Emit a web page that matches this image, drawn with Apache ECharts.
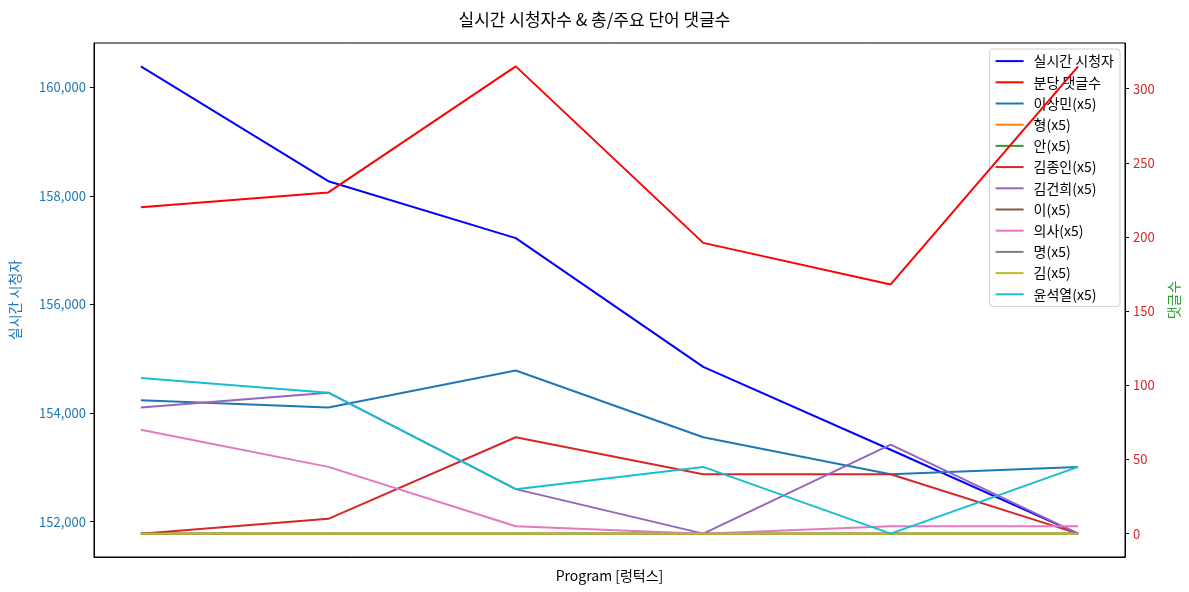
<!DOCTYPE html>
<html>
<head>
<meta charset="utf-8">
<script src="https://cdn.jsdelivr.net/npm/echarts@6/dist/echarts.min.js"></script>
<style>
html,body{margin:0;padding:0;background:#fff;}
#chart{width:1189px;height:592px;}
</style>
</head>
<body>
<div id="chart"></div>
<script>
// ---- data ----
const programPoints = [0, 1, 2, 3, 4, 5];
const viewers = [160386, 158271, 157223, 154851, 153324, 151779];
const comments = [220, 230, 315, 196, 168, 315];
const wordNames = ['이상민(x5)', '형(x5)', '안(x5)', '김종인(x5)', '김건희(x5)', '이(x5)', '의사(x5)', '명(x5)', '김(x5)', '윤석열(x5)'];
const w_이상민 = [90, 85, 110, 65, 40, 45];
const w_형 = [0, 0, 0, 0, 0, 0];
const w_안 = [0, 0, 0, 0, 0, 0];
const w_김종인 = [0, 10, 65, 40, 40, 0];
const w_김건희 = [85, 95, 30, 0, 60, 0];
const w_이 = [0, 0, 0, 0, 0, 0];
const w_의사 = [70, 45, 5, 0, 5, 5];
const w_명 = [0, 0, 0, 0, 0, 0];
const w_김 = [0, 0, 0, 0, 0, 0];
const w_윤석열 = [105, 95, 30, 45, 0, 45];
const wordValues = [w_이상민, w_형, w_안, w_김종인, w_김건희, w_이, w_의사, w_명, w_김, w_윤석열];
const leftTicks = [152000, 154000, 156000, 158000, 160000];
const rightTicks = [0, 50, 100, 150, 200, 250, 300];
const titleText = '실시간 시청자수 & 총/주요 단어 댓글수';
const xName = 'Program [렁턱스]';
const leftName = '실시간 시청자';
const rightName = '댓글수';
const viewersName = '실시간 시청자';
const commentsName = '분당 댓글수';

// ---- style ----
const tab10 = ['#1f77b4', '#ff7f0e', '#2ca02c', '#d62728', '#9467bd', '#8c564b', '#e377c2', '#7f7f7f', '#bcbd22', '#17becf'];
const FONT = '"Noto Sans CJK KR", "Noto Sans", sans-serif';

function pad(arrs) {
  let mn = Infinity, mx = -Infinity;
  arrs.forEach(a => a.forEach(v => { mn = Math.min(mn, v); mx = Math.max(mx, v); }));
  const m = (mx - mn) * 0.05;
  return [mn - m, mx + m];
}
const [lMin, lMax] = pad([viewers]);
const [rMin, rMax] = pad([comments].concat(wordValues));
const xr = programPoints.length - 1;

const toPairs = arr => arr.map((v, i) => [programPoints[i], v]);

const series = [
  { name: viewersName, type: 'line', yAxisIndex: 0, data: toPairs(viewers), color: '#0000ff' },
  { name: commentsName, type: 'line', yAxisIndex: 1, data: toPairs(comments), color: '#ff0000' }
].concat(wordNames.map((n, i) => ({
  name: n, type: 'line', yAxisIndex: 1, data: toPairs(wordValues[i]), color: tab10[i]
}))).map(s => Object.assign(s, {
  showSymbol: false, symbol: 'none', lineStyle: { width: 2 }, z: 3, animation: false
}));

const chart = echarts.init(document.getElementById('chart'));
chart.setOption({
  backgroundColor: '#fff',
  animation: false,
  textStyle: { fontFamily: FONT },
  title: {
    text: titleText, left: 'center', top: 6,
    textStyle: { fontFamily: FONT, fontSize: 17, fontWeight: 'normal', color: '#000' }
  },
  grid: { left: 93, right: 64, top: 43, bottom: 35, show: true, borderColor: '#000', borderWidth: 1, backgroundColor: 'transparent' },
  legend: {
    orient: 'vertical', right: 69, top: 49, z: 1,
    padding: [4, 6, 4, 6],
    backgroundColor: 'rgba(255,255,255,0.85)', borderColor: '#d0d0d0', borderWidth: 1, borderRadius: 3,
    icon: 'rect', itemWidth: 28, itemHeight: 2, itemGap: 5,
    textStyle: { fontFamily: FONT, fontSize: 14, color: '#000', lineHeight: 16.2, padding: [0, 0, 0, 5] },
    data: [viewersName, commentsName].concat(wordNames)
  },
  xAxis: {
    type: 'value', min: -0.25, max: xr + 0.25,
    name: xName, nameLocation: 'middle', nameGap: 12,
    nameTextStyle: { fontFamily: FONT, fontSize: 14, color: '#000' },
    axisLine: { show: true, onZero: false, lineStyle: { color: '#000' } },
    axisTick: { show: false }, axisLabel: { show: false }, splitLine: { show: false }
  },
  yAxis: [
    {
      type: 'value', position: 'left', min: lMin, max: lMax,
      name: leftName, nameLocation: 'middle', nameGap: 72, nameRotate: 90,
      nameTextStyle: { fontFamily: FONT, fontSize: 14, color: '#1f77b4' },
      axisLine: { show: true, onZero: false, lineStyle: { color: '#000' } },
      axisTick: { show: true, length: 4, customValues: leftTicks, lineStyle: { color: '#000' } },
      axisLabel: { customValues: leftTicks, margin: 8, fontFamily: FONT, fontSize: 13, color: '#1f77b4',
        formatter: v => Math.round(v).toLocaleString('en-US') },
      splitLine: { show: false }
    },
    {
      type: 'value', position: 'right', min: rMin, max: rMax,
      name: rightName, nameLocation: 'middle', nameGap: 42, nameRotate: 90,
      nameTextStyle: { fontFamily: FONT, fontSize: 14, color: '#2ca02c' },
      axisLine: { show: true, onZero: false, lineStyle: { color: '#000' } },
      axisTick: { show: true, length: 4, customValues: rightTicks, lineStyle: { color: '#000' } },
      axisLabel: { customValues: rightTicks, margin: 8, fontFamily: FONT, fontSize: 13, color: '#d62728' },
      splitLine: { show: false }
    }
  ],
  series: series
});
</script>
</body>
</html>
